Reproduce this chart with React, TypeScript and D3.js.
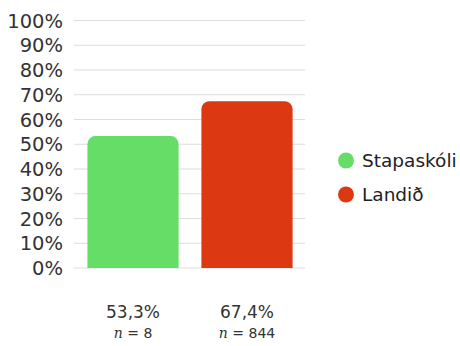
import React, { useEffect, useRef } from 'react';
import * as d3 from 'd3';

const categories = ['Stapaskóli', 'Landið'];
const values = [53.3, 67.4];
const counts = [8, 844];
const colors = ['#66dd66', '#dc3912'];
const ticks = [0, 10, 20, 30, 40, 50, 60, 70, 80, 90, 100];

const width = 460;
const height = 346;

const App = () => {
  const ref = useRef<SVGSVGElement | null>(null);

  useEffect(() => {
    if (!ref.current) return;
    const svg = d3.select(ref.current);
    svg.selectAll('*').remove();

    const y = d3.scaleLinear().domain([0, 100]).range([268, 20.5]);
    const x = d3.scaleBand().domain(categories).range([76, 304]).paddingInner(0.2).paddingOuter(0.1);

    // grid
    svg.append('g')
      .selectAll('line')
      .data(ticks)
      .enter().append('line')
      .attr('x1', 74)
      .attr('x2', 305)
      .attr('y1', d => y(d))
      .attr('y2', d => y(d))
      .attr('stroke', '#dddddd')
      .attr('stroke-width', 1);

    // tick labels
    svg.append('g')
      .selectAll('text')
      .data(ticks)
      .enter().append('text')
      .attr('x', 63)
      .attr('y', d => y(d))
      .attr('dy', '0.36em')
      .attr('text-anchor', 'end')
      .attr('font-family', 'DejaVu Sans')
      .attr('font-size', 19.5)
      .attr('fill', '#333')
      .text(d => `${d}%`);

    // bars, rounded top corners
    const r = 8;
    svg.append('g')
      .selectAll('path')
      .data(values)
      .enter().append('path')
      .attr('fill', (_, i) => colors[i])
      .attr('d', (d, i) => {
        const x0 = x(categories[i])!;
        const w = x.bandwidth();
        const y0 = y(d);
        const yb = y(0);
        const p = d3.path();
        p.moveTo(x0, yb);
        p.lineTo(x0, y0 + r);
        p.arcTo(x0, y0, x0 + r, y0, r);
        p.lineTo(x0 + w - r, y0);
        p.arcTo(x0 + w, y0, x0 + w, y0 + r, r);
        p.lineTo(x0 + w, yb);
        p.closePath();
        return p.toString();
      });

    // value labels
    const lab = svg.append('g')
      .selectAll('g')
      .data(values)
      .enter().append('g')
      .attr('transform', (_, i) => `translate(${x(categories[i])! + x.bandwidth() / 2},0)`);
    lab.append('text')
      .attr('y', 318)
      .attr('text-anchor', 'middle')
      .attr('font-family', 'DejaVu Sans')
      .attr('font-size', 17)
      .attr('fill', '#333')
      .text(d => `${d.toFixed(1).replace('.', ',')}%`);
    const nt = lab.append('text')
      .attr('y', 338)
      .attr('text-anchor', 'middle')
      .attr('font-family', 'DejaVu Sans')
      .attr('font-size', 14)
      .attr('fill', '#333');
    nt.append('tspan').attr('font-style', 'italic').attr('font-family', 'DejaVu Serif').text('n');
    nt.append('tspan').text((_, i) => ` = ${counts[i]}`);

    // legend
    const leg = svg.append('g')
      .selectAll('g')
      .data(categories)
      .enter().append('g')
      .attr('transform', (_, i) => `translate(346,${160.5 + i * 34})`);
    leg.append('circle').attr('r', 8).attr('fill', (_, i) => colors[i]);
    leg.append('text')
      .attr('x', 16)
      .attr('dy', '0.35em')
      .attr('font-family', 'DejaVu Sans')
      .attr('font-size', 18.5)
      .attr('fill', '#222')
      .text(d => d);
  }, []);

  return (
    <svg ref={ref} width={width} height={height}
      style={{ position: 'absolute', left: 0, top: 0, background: '#fff' }} />
  );
};

export default App;
